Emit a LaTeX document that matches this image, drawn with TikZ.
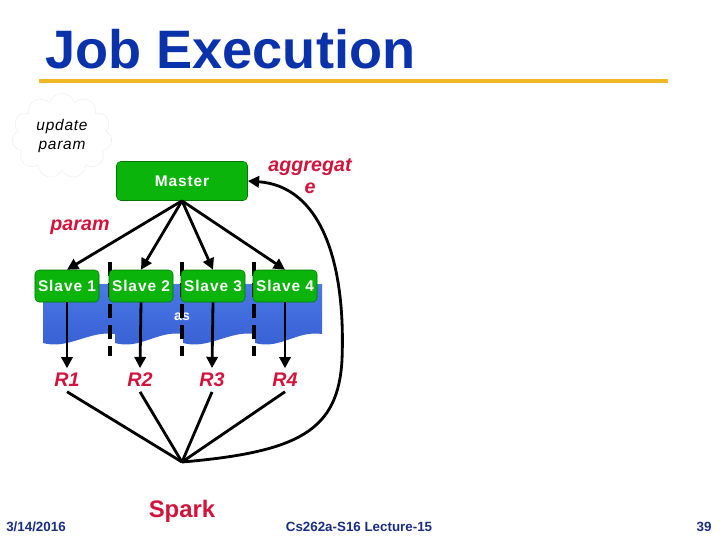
\documentclass[tikz,border=0pt]{standalone}
\usepackage{fontspec}
\setmainfont{Liberation Sans}
\usetikzlibrary{arrows.meta,shapes.symbols}

\definecolor{titleblue}{RGB}{10,50,170}
\definecolor{footblue}{RGB}{25,45,130}
\definecolor{labelred}{RGB}{210,20,60}
\definecolor{boxgreen}{RGB}{10,180,10}
\definecolor{boxedge}{RGB}{0,120,0}
\definecolor{docblue}{RGB}{75,120,230}
\definecolor{docdark}{RGB}{55,95,210}
\definecolor{lineyellow}{RGB}{240,185,35}

\begin{document}
\begin{tikzpicture}[x=0.025cm,y=-0.025cm,
    worker/.style={rectangle,rounded corners=3pt,draw=boxedge,fill=boxgreen,
      text=white,font=\fontsize{11}{12}\selectfont\bfseries\addfontfeature{LetterSpace=6},
      inner sep=0pt,minimum width=1.6cm,minimum height=0.8cm},
    redlabel/.style={text=labelred,font=\fontsize{14}{16}\selectfont\bfseries\itshape},
    footer/.style={text=footblue,font=\fontsize{9.5}{11}\selectfont\bfseries},
    link/.style={line width=2pt,-{Triangle[length=8pt,width=8pt]}},
    plain/.style={line width=2pt}]
    \useasboundingbox (0,0) rectangle (720,540);

    % title and rule
    \node[anchor=base west,inner sep=0pt,text=titleblue,
          font=\fontsize{38.5}{40}\selectfont\bfseries] (title) at (45,68) {Job Execution};
    \draw[lineyellow,line width=2.2pt] (39,81) -- (668,81);

    % blue documents behind the slaves
    \foreach \xa/\xb in {43/115, 115/183, 183/255, 255/322}
      \shade[top color=docblue,bottom color=docdark]
        (\xa,284) -- (\xb,284) -- (\xb,334)
        .. controls (\xb-25,330) and (\xa+25,350) .. (\xa,343) -- cycle;
    \node[text=white,font=\fontsize{10}{12}\selectfont\bfseries] (hidden) at (182,317) {as};

    % dashed separators
    \foreach \xd in {110,182,254}
      \draw[line width=2.2pt,dash pattern=on 10pt off 5pt] (\xd,262) -- (\xd,356);

    \node[cloud,cloud puffs=11,draw=gray!12,fill=white,minimum width=2.5cm,
          minimum height=1.5cm,align=center,inner sep=0pt,
          font=\fontsize{11}{14}\selectfont\itshape\addfontfeature{LetterSpace=5}] (cloud) at (62,136) {update\\param};

    \node[worker,minimum width=3.275cm,minimum height=0.975cm] (master) at (182,181) {Master};
    \node[redlabel,align=center] (agg) at (310,176) {aggregat\\e};
    \node[redlabel] (param) at (80,227) {param};

    \node[worker] (s1) at (67,286) {Slave 1};
    \node[worker] (s2) at (141,286) {Slave 2};
    \node[worker] (s3) at (213,286) {Slave 3};
    \node[worker] (s4) at (285,286) {Slave 4};

    \node[redlabel] (r1) at (67,380) {R1};
    \node[redlabel] (r2) at (140,380) {R2};
    \node[redlabel] (r3) at (212,380) {R3};
    \node[redlabel] (r4) at (285,380) {R4};

    \coordinate (join) at (182,462);
    \node[text=labelred,font=\fontsize{17}{20}\selectfont\bfseries] (spark) at (182,511) {Spark};

    \foreach \i in {1,...,4} {
      \draw[link] (master.south) -- (s\i.north);
      \draw[link] (s\i.south) -- (r\i.north);
      \draw[plain] (r\i.south) -- (join);
    }
    \draw[link] (join) .. controls (300,452) and (338,430) .. (342,360)
                       .. controls (346,260) and (320,186) .. (master.east);

    \node[footer] (date) at (36,527) {3/14/2016};
    \node[footer] (course) at (359,527) {Cs262a-S16 Lecture-15};
    \node[footer] (page) at (704,527) {39};
\end{tikzpicture}
\end{document}
